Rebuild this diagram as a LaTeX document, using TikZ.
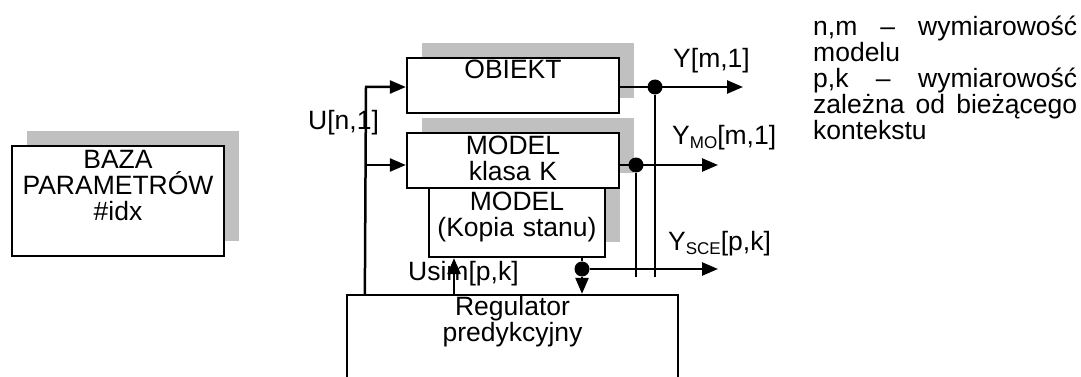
\documentclass[tikz,border=0pt]{standalone}
\usepackage{fontspec}
\setmainfont{Liberation Sans}
\usetikzlibrary{arrows.meta,shadows,calc}
\definecolor{shadowgrey}{HTML}{C0C0C0}
% lowered, smaller index after a signal name
\newcommand{\lowidx}[1]{\raisebox{-4pt}{\fontsize{17}{17}\selectfont #1}}

\begin{document}
\begin{tikzpicture}[x=1pt,y=-1pt,
  every node/.style={font=\fontsize{26.5}{25.8}\selectfont},
  block/.style={draw, line width=2.3pt, fill=white, inner sep=0pt,
    general shadow={shadow xshift=15pt, shadow yshift=15pt, fill=shadowgrey}},
  plainblock/.style={draw, line width=2.3pt, fill=white, inner sep=0pt},
  caption/.style={inner sep=0pt, anchor=base, align=center},
  wire/.style={line width=2.5pt},
  flow/.style={wire, -{Triangle[length=16pt,width=13pt]}},
  dot/.style={circle, fill=black, inner sep=0pt, minimum size=15pt},
  tag/.style={inner sep=0pt, anchor=base west},
]
\useasboundingbox (0,0) rectangle (1081,377);
\clip (0,0) rectangle (1081,377);

% parameter base
\node[block, minimum width=212pt, minimum height=110pt] (baza) at (118,201) {};
\node[caption, text width=212pt] (bazatxt) at ([yshift=-24pt]baza.north)
  {BAZA\\PARAMETRÓW\\\#idx};

% plant and models
\node[block, minimum width=212pt, minimum height=55pt] (obiekt) at (513,85.5) {};
\node[caption, text width=212pt] (obiekttxt) at ([yshift=-22pt]obiekt.north) {OBIEKT};

\node[block, minimum width=176pt, minimum height=69pt] (kopia) at (517,222.5) {};
\node[caption, text width=176pt] (kopiatxt) at ([yshift=-24pt]kopia.north)
  {MODEL\\(Kopia stanu)};

\node[block, minimum width=212pt, minimum height=55pt] (modelk) at (513,160.5) {};
\node[caption, text width=212pt] (modelktxt) at ([yshift=-23pt]modelk.north)
  {MODEL\\klasa K};

% predictive controller
\node[plainblock, minimum width=331pt, minimum height=110pt] (reg) at (512.5,350) {};
\node[caption, text width=331pt] (regtxt) at ([yshift=-22pt]reg.north)
  {Regulator\\predykcyjny};

% control input U
\coordinate (ubase) at ($(reg.north west)+(19,0)$);
\coordinate (ucorner) at (366,87);
\coordinate (ubranch) at (366,165);
\draw[flow] (ubase) -- (ucorner) -- (ucorner -| obiekt.west);
\draw[flow] (ubranch) -- (ubranch -| modelk.west);

% plant output
\coordinate (yout) at (743,87);
\node[dot] (j1) at (655,87) {};
\coordinate (j1end) at (655,277);
\draw[flow] (yout -| obiekt.east) -- (yout);
\draw[wire] (j1) -- (j1end);

% model output
\coordinate (ymo) at (718,165);
\node[dot] (j2) at (636,165) {};
\coordinate (j2end) at (636,277);
\draw[flow] (ymo -| modelk.east) -- (ymo);
\draw[wire] (j2) -- (j2end);

% state-copy model output
\coordinate (ysce) at (718,269);
\node[dot] (j3) at (582,269) {};
\draw[wire] (kopia.south -| j3) -- (j3);
\draw[flow] (j3) -- (j3 |- reg.north);
\draw[flow] (j3) -- (ysce);

% simulated input
\coordinate (usim) at (454,295);
\draw[flow] (usim) -- (usim |- kopia.south);

% signal labels
\node[tag] (ulab) at (308,130) {U[n,1]};
\node[tag] (ylab) at (673,68) {Y[m,1]};
\node[tag] (ymolab) at (672,144) {Y\lowidx{MO}[m,1]};
\node[tag] (yscelab) at (668,250) {Y\lowidx{SCE}[p,k]};
\node[tag] (usimlab) at (408,280) {Usim[p,k]};

% legend
\node[inner sep=0pt, anchor=base west, text width=264pt, align=left] (legend) at (813,36)
  {n,m\hfill–\hfill wymiarowość\\modelu\\p,k\hfill–\hfill wymiarowość\\zależna\hfill od\hfill bieżącego\\kontekstu};
\end{tikzpicture}
\end{document}
